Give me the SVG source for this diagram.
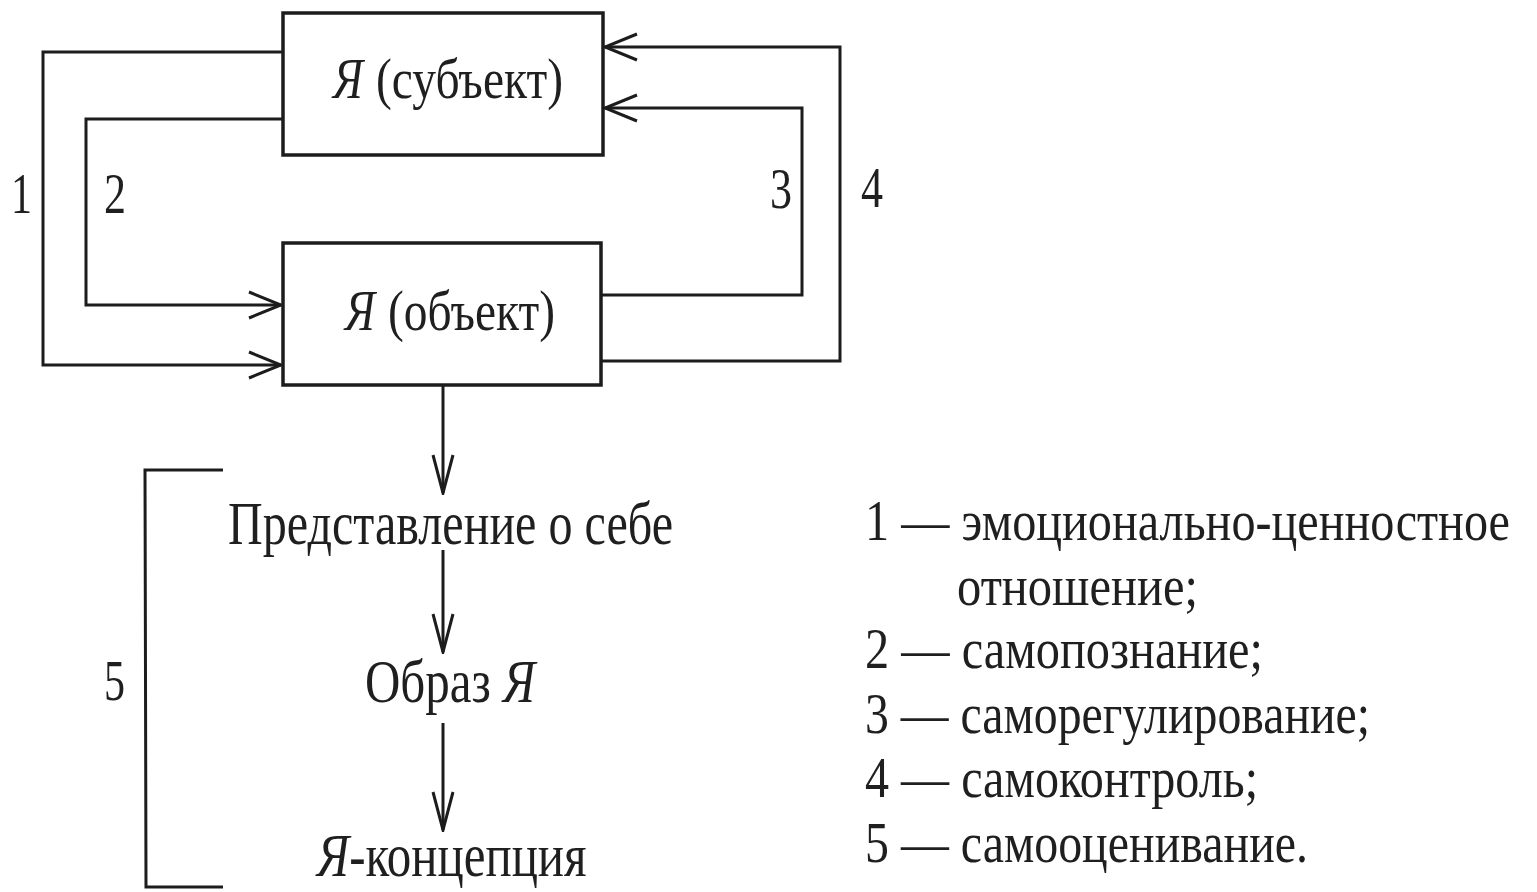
<svg xmlns="http://www.w3.org/2000/svg" width="1537" height="892" viewBox="0 0 1537 892">
<defs>
<style>
.box{fill:#fff;stroke:#1c1c1c;stroke-width:3.5}
.ln{fill:none;stroke:#1c1c1c;stroke-width:3}
.t{font-family:"Liberation Serif","Times New Roman",serif;fill:#1f1f1f}
.bt{font-size:56px}
.ft{font-size:62px}
.lg{font-size:50px}
.num{font-size:56px}
.i{font-style:italic}
</style>
<marker id="ah" markerUnits="userSpaceOnUse" viewBox="-34 -15 36 30" refX="0" refY="0" markerWidth="36" markerHeight="30" orient="auto">
<path d="M -32 -13 L 0 0 L -32 13" fill="none" stroke="#1c1c1c" stroke-width="3"/>
</marker>
<marker id="av" markerUnits="userSpaceOnUse" viewBox="-40 -12 42 24" refX="0" refY="0" markerWidth="42" markerHeight="24" orient="auto">
<path d="M -38 -10 L 0 0 L -38 10" fill="none" stroke="#1c1c1c" stroke-width="3"/>
</marker>
</defs>
<rect width="1537" height="892" fill="#fff"/>
<g id="connectors">
<path class="ln" d="M 283 52 L 43 52 L 43 365 L 281 365" marker-end="url(#ah)"/>
<path class="ln" d="M 283 119 L 86 119 L 86 305 L 281 305" marker-end="url(#ah)"/>
<path class="ln" d="M 601 295 L 802 295 L 802 108 L 605 108" marker-end="url(#ah)"/>
<path class="ln" d="M 601 361 L 840 361 L 840 47 L 605 47" marker-end="url(#ah)"/>
<path class="ln" d="M 443 386 L 443 493" marker-end="url(#av)"/>
<path class="ln" d="M 443 550 L 443 652" marker-end="url(#av)"/>
<path class="ln" d="M 443 723 L 443 830" marker-end="url(#av)"/>
<path class="ln" d="M 223 470 L 145 470 L 146 887 L 223 887"/>
</g>
<g id="label-1"><text class="t num" x="11" y="213" textLength="21" lengthAdjust="spacingAndGlyphs">1</text></g>
<g id="label-2"><text class="t num" x="104" y="213" textLength="22" lengthAdjust="spacingAndGlyphs">2</text></g>
<g id="label-3"><text class="t num" x="770" y="208" textLength="22" lengthAdjust="spacingAndGlyphs">3</text></g>
<g id="label-4"><text class="t num" x="861" y="207" textLength="22" lengthAdjust="spacingAndGlyphs">4</text></g>
<g id="label-5"><text class="t num" x="104" y="700" textLength="21" lengthAdjust="spacingAndGlyphs">5</text></g>
<g id="node-subject">
<rect class="box" x="283" y="13" width="320" height="142"/>
<text class="t bt" y="98"><tspan class="i" x="333" textLength="30" lengthAdjust="spacingAndGlyphs">Я</tspan><tspan x="376" textLength="187" lengthAdjust="spacingAndGlyphs">(субъект)</tspan></text>
</g>
<g id="node-object">
<rect class="box" x="283" y="243" width="318" height="142"/>
<text class="t bt" y="330"><tspan class="i" x="345" textLength="30" lengthAdjust="spacingAndGlyphs">Я</tspan><tspan x="388" textLength="167" lengthAdjust="spacingAndGlyphs">(объект)</tspan></text>
</g>
<g id="node-representation">
<text class="t ft" x="228" y="544" textLength="445" lengthAdjust="spacingAndGlyphs">Представление о себе</text>
</g>
<g id="node-image">
<text class="t ft" transform="translate(365 702) scale(0.79 1)" x="0" y="0">Образ <tspan class="i">Я</tspan></text>
</g>
<g id="node-concept">
<text class="t ft" transform="translate(317 876) scale(0.79 1)" x="0" y="0"><tspan class="i">Я</tspan>-концепция</text>
</g>
<g id="legend">
<text class="t lg" transform="translate(865 540) scale(1 1.12)" x="0" y="0" textLength="645" lengthAdjust="spacingAndGlyphs">1 — эмоционально-ценностное</text>
<text class="t lg" transform="translate(957 605) scale(1 1.12)" x="0" y="0" textLength="241" lengthAdjust="spacingAndGlyphs">отношение;</text>
<text class="t lg" transform="translate(865 668) scale(1 1.12)" x="0" y="0" textLength="398" lengthAdjust="spacingAndGlyphs">2 — самопознание;</text>
<text class="t lg" transform="translate(865 733) scale(1 1.12)" x="0" y="0" textLength="505" lengthAdjust="spacingAndGlyphs">3 — саморегулирование;</text>
<text class="t lg" transform="translate(865 797) scale(1 1.12)" x="0" y="0" textLength="393" lengthAdjust="spacingAndGlyphs">4 — самоконтроль;</text>
<text class="t lg" transform="translate(865 862) scale(1 1.12)" x="0" y="0" textLength="443" lengthAdjust="spacingAndGlyphs">5 — самооценивание.</text>
</g>
</svg>
